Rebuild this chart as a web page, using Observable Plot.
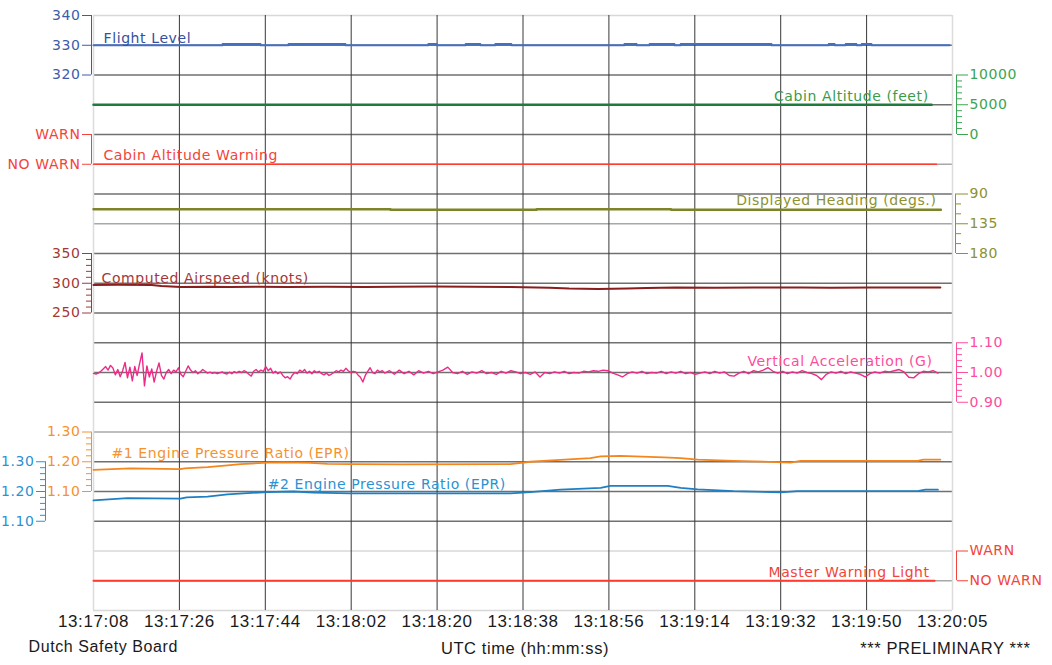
<!DOCTYPE html>
<html><head><meta charset="utf-8">
<script src="https://cdn.jsdelivr.net/npm/d3@7"></script>
<script src="https://cdn.jsdelivr.net/npm/@observablehq/plot@0.6"></script>
<style>
html,body{margin:0;padding:0;background:#fff;}
#chart svg text{letter-spacing:0.6px;}
</style></head><body><div id="chart"></div>
<script>
// ---------- data ----------
const timeLabels = ["13:17:08","13:17:26","13:17:44","13:18:02","13:18:20","13:18:38","13:18:56","13:19:14","13:19:32","13:19:50","13:20:05"];
const duration = 177; // seconds from 13:17:08 to 13:20:05

// [seconds, value]
const flightLevel = [[0,330],[26.6,330.4],[34.4,330],[40.2,330.4],[51.9,330],[69.0,330.4],[70.7,330],[76.7,330.4],[79.7,330],[82.8,330.4],[86.1,330],[109.4,330.4],[111.9,330],[114.6,330.4],[119.7,330],[121,330.4],[139.7,330],[151.5,330.4],[152.7,330],[155,330.4],[157.2,330],[158.3,330.4],[160.3,330],[176.4,330]];
const cabinAltitude = [[0,5000],[172.7,5000]];
const cabinAltWarning = [[0,0],[173.7,0]];
const heading = [[0,113],[61.2,114],[91.3,113],[119,114],[174.6,114]];
const airspeed = [[0,297],[5,297.5],[12,297],[14,295.5],[18,293.5],[24,294],[28,293.5],[34,294],[40,293.5],[48,294],[56,293.5],[62,294],[70,294.5],[78,294],[86,293.5],[94,292.5],[98,291],[104,290.5],[110,291],[114,292],[120,293],[128,292.5],[136,293],[146,293],[152,292.5],[160,293],[174.5,293]];
// vertical acceleration (G): every 0.5 s from 0 s, then every 1 s from 60 s
const accelEarly = [0.997,0.995,0.998,1.004,1.012,1.020,1.008,1.024,1.015,0.992,1.010,0.986,1.006,1.034,0.982,1.018,0.972,1.020,0.990,1.030,1.066,0.955,1.022,0.985,1.012,0.968,1.004,1.032,0.990,0.978,1.000,1.010,0.996,1.008,1.002,1.016,0.994,0.986,1.004,1.022,1.008,1.000,1.006,0.996,1.002,1.010,1.004,0.998,1.001,0.997,1.000,0.996,0.999,1.002,0.997,0.995,1.001,0.996,1.003,0.999,1.004,1.000,1.006,1.002,0.994,0.988,1.004,1.010,1.002,1.008,1.004,1.020,1.006,1.014,0.998,1.004,0.996,1.002,0.990,0.982,0.986,0.978,0.992,1.000,0.996,1.008,1.002,1.010,0.998,1.004,0.996,1.006,1.000,1.004,0.996,0.992,0.998,0.990,0.994,1.000,1.006,1.002,1.008,1.004,1.014,1.006,1.000,1.004,1.002,0.992,0.984,0.968,0.990,1.004,1.016,1.000,0.996,1.008,1.002,1.006];
const accelLate = [0.998,1.006,0.994,1.008,0.996,1.004,0.992,1.006,0.998,1.004,0.996,1.002,1.008,1.018,1.000,0.996,1.004,0.994,1.002,0.998,1.006,0.996,1.000,0.994,1.004,0.998,1.006,1.002,0.996,1.000,0.994,1.002,0.985,1.000,0.996,1.002,0.998,1.004,0.996,1.000,0.998,1.004,1.002,1.006,1.004,1.008,1.006,0.998,0.992,0.985,0.996,1.002,0.998,1.004,0.996,1.000,0.998,1.004,0.996,1.002,0.998,1.004,0.996,1.000,0.994,0.998,1.002,0.996,1.004,0.998,1.002,0.990,0.988,0.998,1.004,0.996,1.006,1.002,1.008,1.016,1.004,0.998,1.004,0.996,1.002,0.998,1.006,1.000,0.996,0.990,0.976,0.994,1.002,0.998,1.004,0.996,1.002,0.998,0.994,0.985,0.996,1.002,0.998,1.004,1.002,1.006,1.010,1.002,0.984,0.982,0.996,1.004,1.002,1.006,0.998];
const epr1 = [[0,1.173],[7.6,1.178],[17.9,1.175],[18.8,1.178],[23.5,1.182],[27.6,1.188],[30.3,1.192],[35.9,1.197],[39.2,1.198],[44.7,1.196],[48.2,1.193],[53,1.192],[63.3,1.191],[85.9,1.192],[90,1.200],[96.2,1.206],[102.4,1.212],[104.5,1.218],[108.6,1.220],[117.5,1.215],[121,1.212],[124.5,1.207],[131.9,1.203],[140.9,1.199],[143.6,1.197],[145.7,1.203],[169.8,1.203],[171,1.207],[174.5,1.207]];
const epr2 = [[0,1.170],[7,1.178],[17.9,1.176],[19.2,1.180],[23.5,1.183],[27.6,1.190],[30.9,1.194],[35.9,1.198],[41.2,1.200],[45.3,1.196],[53,1.194],[85.9,1.194],[90,1.198],[96.2,1.206],[104.5,1.212],[106.5,1.219],[118.3,1.219],[121,1.212],[124.5,1.207],[131.9,1.201],[141.6,1.197],[145,1.201],[169.8,1.201],[171.4,1.206],[174,1.206]];
const masterWarning = [[0,0],[173.3,0]];

// ---------- per-trace vertical scales (trace value -> chart row units, 0 = bottom, 20 = top) ----------
const sFL  = d3.scaleLinear([320,340],[18,20]);
const sCab = d3.scaleLinear([0,10000],[16,18]);
const sCW  = d3.scaleLinear([0,1],[15,16]);
const sHdg = d3.scaleLinear([180,90],[12,14]);
const sIAS = d3.scaleLinear([250,350],[10,12]);
const sVA  = d3.scaleLinear([0.9,1.1],[7,9]);
const sE1  = d3.scaleLinear([1.1,1.3],[4,6]);
const sE2  = d3.scaleLinear([1.1,1.3],[3,5]);
const sMW  = d3.scaleLinear([0,1],[1,2]);

const accel = [
  ...accelEarly.map((g,i)=>[i*0.5,g]),
  ...accelLate.map((g,i)=>[60+i,g])
];

const xStep = duration/10;
const xTicks = timeLabels.map((_,i)=>i*xStep);
const F = "DejaVu Sans";

const C = {
  fl:"#4470c0", flT:"#34509e",
  cab:"#1f7b3b", cabT:"#3a9c48",
  cw:"#ff3d2e", cwT:"#f2443a",
  hdg:"#7d8427", hdgT:"#8c922f",
  ias:"#8a1d1d", iasT:"#a33838",
  va:"#ee2a88", vaT:"#ff4c9c",
  e1:"#f5861e", e1T:"#f5922f",
  e2:"#1e7fc3", e2T:"#2a92d2",
  mw:"#ff3b30", mwT:"#f2443a"
};

function axis(scale, majors, minors, fmt, color, side, shift, big, small){
  const anchor = side;
  const marks = [];
  const lo = d3.min(majors), hi = d3.max(majors);
  marks.push(Plot.ruleX([side==="left"?0:duration], {y1: scale(lo), y2: scale(hi), dx: shift, stroke: color, strokeWidth: 1}));
  if (minors.length) marks.push(Plot.axisY(minors.map(scale), {anchor, dx: shift, tickSize: small, tickFormat: ()=>"", color, label: null}));
  marks.push(Plot.axisY(majors.map(scale), {anchor, dx: shift, tickSize: big, tickPadding: 2, tickFormat: u => fmt(scale.invert(u)), color, fontSize: 14, fontFamily: F, label: null}));
  return marks;
}
const range = (a,b,s) => d3.range(0, Math.round((b-a)/s)+1).map(i=>+(a+i*s).toFixed(4));
const minorOf = (a,b,s,majors) => range(a,b,s).filter(v=>!majors.some(m=>Math.abs(m-v)<1e-6));
const f0 = d=>d3.format(".0f")(d), f2 = d=>d3.format(".2f")(d);
const warnFmt = d => Math.round(d) ? "WARN" : "NO WARN";

function label(text, t, scale, v, dy, anchor, fill){
  return Plot.text([text], {x: ()=>t, y: ()=>scale(v), text: d=>d, dy, textAnchor: anchor, fill, fontSize: 14, fontFamily: F});
}

const darkRows = [3,4,5,7,8,9,10,11,12,14,16,17,18,19];
const midRows = [1,6,13,15];
const lightRows = [0,2,20];

const chart = Plot.plot({
  width: 1052, height: 665,
  marginLeft: 93, marginRight: 100, marginTop: 15, marginBottom: 55,
  x: {domain: [0, duration]},
  y: {domain: [0, 20]},
  style: {fontFamily: F, background: "#fff"},
  marks: [
    Plot.ruleY(lightRows, {stroke: "#d8d8d8", strokeWidth: 1.5}),
    Plot.ruleY(midRows, {stroke: "#a8a8a8", strokeWidth: 1.5}),
    Plot.ruleY(darkRows, {stroke: "#707070", strokeWidth: 1.3}),
    Plot.ruleX(xTicks.slice(1,-1), {y1: 0, y2: 20, stroke: "#383838", strokeWidth: 1}),
    Plot.ruleX([0, duration], {y1: 0, y2: 20, stroke: "#dcdcdc", strokeWidth: 1.5}),

    Plot.line(flightLevel, {x: d=>d[0], y: d=>sFL(d[1]), curve: "step-after", stroke: C.fl, strokeWidth: 2}),
    Plot.line(cabinAltitude, {x: d=>d[0], y: d=>sCab(d[1]), stroke: C.cab, strokeWidth: 2.5}),
    Plot.line(cabinAltWarning, {x: d=>d[0], y: d=>sCW(d[1]), stroke: C.cw, strokeWidth: 1.5}),
    Plot.line(heading, {x: d=>d[0], y: d=>sHdg(d[1]), curve: "step-after", stroke: C.hdg, strokeWidth: 2.5}),
    Plot.line(airspeed, {x: d=>d[0], y: d=>sIAS(d[1]), stroke: C.ias, strokeWidth: 2}),
    Plot.line(accel, {x: d=>d[0], y: d=>sVA(d[1]), stroke: C.va, strokeWidth: 1.4}),
    Plot.line(epr1, {x: d=>d[0], y: d=>sE1(d[1]), stroke: C.e1, strokeWidth: 1.8}),
    Plot.line(epr2, {x: d=>d[0], y: d=>sE2(d[1]), stroke: C.e2, strokeWidth: 1.8}),
    Plot.line(masterWarning, {x: d=>d[0], y: d=>sMW(d[1]), stroke: C.mw, strokeWidth: 2}),

    // left axes
    ...axis(sFL, [320,330,340], [], f0, "#3c5caa", "left", -2, 9, 5),
    ...axis(sCW, [0,1], [], warnFmt, "#f2443a", "left", -2, 9, 5),
    ...axis(sIAS, [250,300,350], minorOf(250,350,10,[250,300,350]), f0, "#a33838", "left", -2, 9, 5),
    ...axis(sE1, [1.1,1.2,1.3], minorOf(1.1,1.3,0.02,[1.1,1.2,1.3]), f2, "#f5922f", "left", -2, 9, 5),
    ...axis(sE2, [1.1,1.2,1.3], minorOf(1.1,1.3,0.02,[1.1,1.2,1.3]), f2, "#2a92d2", "left", -48, 9, 5),
    // right axes
    ...axis(sCab, [0,5000,10000], minorOf(0,10000,1000,[0,5000,10000]), f0, "#3aa452", "right", 4, 11, 5),
    ...axis(sHdg, [90,135,180], minorOf(90,180,15,[90,135,180]), f0, "#8c922f", "right", 3, 12, 5),
    ...axis(sVA, [0.9,1.0,1.1], minorOf(0.9,1.1,0.02,[0.9,1.0,1.1]), f2, "#ff4c9c", "right", 4, 11, 5),
    ...axis(sMW, [0,1], [], warnFmt, "#f2443a", "right", 4, 11, 5),

    // trace labels
    label("Flight Level", 2.06, sFL, 330, -7, "start", C.flT),
    label("Cabin Altitude (feet)", 172.1, sCab, 5000, -8, "end", C.cabT),
    label("Cabin Altitude Warning", 2.06, sCW, 0, -9, "start", C.cwT),
    label("Displayed Heading (degs.)", 173.7, sHdg, 90, 7, "end", C.hdgT),
    label("Computed Airspeed (knots)", 1.65, sIAS, 300, -5, "start", C.iasT),
    label("Vertical Acceleration (G)", 172.9, sVA, 1.0, -11, "end", C.vaT),
    label("#1 Engine Pressure Ratio (EPR)", 3.7, sE1, 1.2, -8, "start", C.e1T),
    label("#2 Engine Pressure Ratio (EPR)", 35.9, sE2, 1.2, -7, "start", C.e2T),
    label("Master Warning Light", 172.3, sMW, 0, -8, "end", C.mwT),

    // time axis
    Plot.axisX(xTicks, {anchor: "bottom", tickSize: 0, tickPadding: 4, tickFormat: d => timeLabels[Math.round(d/xStep)], fontSize: 17, fontFamily: "Liberation Sans", color: "#1a1a1a", label: null}),

    // footer
    Plot.text(["Dutch Safety Board"], {frameAnchor: "bottom-left", dx: -65, dy: 41, textAnchor: "start", text: d=>d, fontSize: 16, fontFamily: "Liberation Sans", fill: "#1a1a1a"}),
    Plot.text(["UTC time (hh:mm:ss)"], {frameAnchor: "bottom", dx: 2, dy: 43, textAnchor: "middle", text: d=>d, fontSize: 16.5, fontFamily: "Liberation Sans", fill: "#1a1a1a"}),
    Plot.text(["*** PRELIMINARY ***"], {frameAnchor: "bottom-right", dx: 78, dy: 43, textAnchor: "end", text: d=>d, fontSize: 16.5, fontFamily: "Liberation Sans", fill: "#1a1a1a"})
  ]
});
document.getElementById("chart").append(chart);
</script>
</body></html>
